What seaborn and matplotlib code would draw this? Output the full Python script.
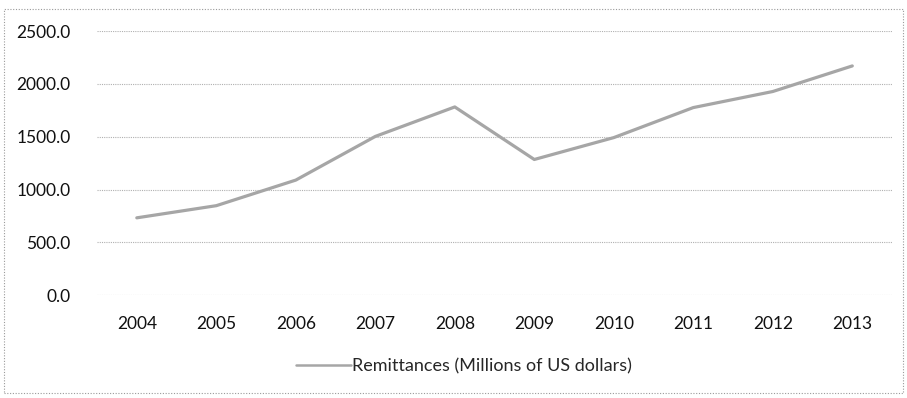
import matplotlib
matplotlib.use("Agg")
import matplotlib.pyplot as plt
import seaborn as sns
import pandas as pd
from matplotlib.patches import Rectangle

years = ["2004", "2005", "2006", "2007", "2008", "2009", "2010", "2011", "2012", "2013"]
remittances = [733, 848, 1090, 1503, 1782, 1285, 1492, 1776, 1928, 2170]
series_name = "Remittances (Millions of US dollars)"
y_ticks = [0, 500, 1000, 1500, 2000, 2500]
y_tick_labels = ["0.0", "500.0", "1000.0", "1500.0", "2000.0", "2500.0"]

sns.set_theme(style="white")
plt.rcParams["font.family"] = ["Lato", "DejaVu Sans"]

df = pd.DataFrame({"Year": years, "Value": remittances, "Series": series_name})

fig = plt.figure(figsize=(9.07, 3.98), dpi=100)
ax = fig.add_axes([0.107, 0.258, 0.8765, 0.664])

sns.lineplot(data=df, x="Year", y="Value", hue="Series", palette=["#a6a6a6"],
             linewidth=2.3, ax=ax, sort=False, legend=True)

ax.set_ylim(0, 2500)
ax.set_xlim(-0.5, len(years) - 0.5)
ax.set_yticks(y_ticks)
ax.set_yticklabels(y_tick_labels)
ax.set_xlabel("")
ax.set_ylabel("")
for s in ax.spines.values():
    s.set_visible(False)
ax.yaxis.grid(True, color="#b0b0b0", linestyle=(0, (1, 1)), linewidth=0.8)
ax.xaxis.grid(False)
ax.set_axisbelow(True)
ax.tick_params(axis="both", length=0, labelsize=12.5, colors="#111111")
ax.tick_params(axis="y", pad=19)
ax.tick_params(axis="x", pad=15)

leg = ax.legend(loc="center", bbox_to_anchor=(0.512, 0.08), bbox_transform=fig.transFigure,
                frameon=False, fontsize=13, handlelength=3.0, handletextpad=0.1)
for h in leg.get_lines():
    h.set_linewidth(1.8)

fig.patches.append(Rectangle((0.004, 0.012), 0.992, 0.965, transform=fig.transFigure,
                             fill=False, edgecolor="#9a9a9a", linestyle=(0, (1, 1.5)),
                             linewidth=0.8))

fig.savefig("out.png", dpi=100)
